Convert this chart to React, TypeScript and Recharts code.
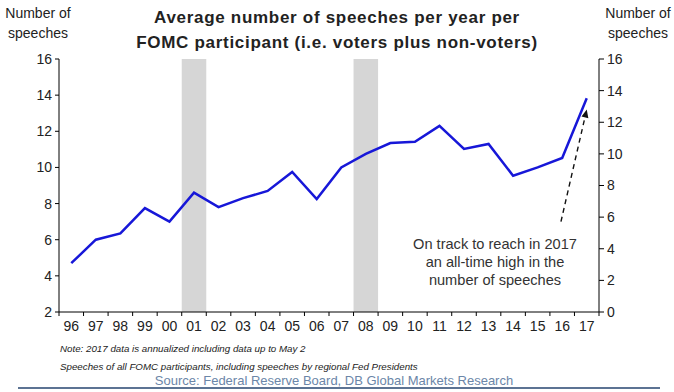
import React from "react";
import {
  LineChart,
  Line,
  XAxis,
  YAxis,
  ReferenceArea,
  ReferenceLine,
} from "recharts";

// years on the x axis (two-digit labels)
const years = [
  "96", "97", "98", "99", "00", "01", "02", "03", "04", "05", "06",
  "07", "08", "09", "10", "11", "12", "13", "14", "15", "16", "17",
];

// average speeches per FOMC participant (left axis)
const speeches = [
  4.7, 6.0, 6.35, 7.75, 7.0, 8.6, 7.8, 8.3, 8.7, 9.75, 8.25,
  10.0, 10.75, 11.35, 11.42, 12.3, 11.02, 11.3, 9.54, 10.0, 10.52, 13.83,
];

// shaded years (recessions)
const shadedYears = ["01", "08"];

const leftTicks = [2, 4, 6, 8, 10, 12, 14, 16];
const rightTicks = [0, 2, 4, 6, 8, 10, 12, 14, 16];

// dashed annotation arrow: from [x index, value] to [x index, value]
const arrowFrom = { x: 19.95, y: 7.0 };
const arrowTo = { x: 21.0, y: 13.2 };

const annotationLines = [
  "On track to reach in 2017",
  "an all-time high in the",
  "number of speeches",
];

const data = years.map((year, i) => ({ i, year, value: speeches[i] }));
const boundaries = years.map((_, i) => i - 0.5).concat([years.length - 0.5]);

const FONT = '"Liberation Sans", Arial, sans-serif';
const TEXT = "#222";

const YearTick = (props: any) => {
  const { x, y, payload, width } = props;
  const half = (width || 539) / (years.length * 2);
  const idx = payload.value + 0.5;
  const label = years[idx];
  return (
    <g>
      <line x1={x} y1={y} x2={x} y2={y + 4} stroke="#000" strokeWidth={1} />
      {label !== undefined && (
        <text
          x={x + half}
          y={y + 8}
          dy="0.8em"
          textAnchor="middle"
          fontSize={14}
          fontFamily={FONT}
          fill={TEXT}
        >
          {label}
        </text>
      )}
    </g>
  );
};

const ArrowShape = (props: any) => {
  const { x1, y1, x2, y2 } = props;
  if ([x1, y1, x2, y2].some((v) => v === undefined)) return null;
  const ang = Math.atan2(y2 - y1, x2 - x1);
  const len = 8;
  const w = 3.5;
  const bx = x2 - len * Math.cos(ang);
  const by = y2 - len * Math.sin(ang);
  const px = -Math.sin(ang) * w;
  const py = Math.cos(ang) * w;
  return (
    <g>
      <line
        x1={x1}
        y1={y1}
        x2={bx}
        y2={by}
        stroke="#111"
        strokeWidth={1.4}
        strokeDasharray="5 4"
      />
      <polygon
        points={`${x2},${y2} ${bx + px},${by + py} ${bx - px},${by - py}`}
        fill="#111"
      />
    </g>
  );
};

export default function App() {
  return (
    <div
      style={{
        position: "absolute",
        left: 0,
        top: 0,
        width: 674,
        height: 392,
        background: "#fff",
        fontFamily: FONT,
        color: TEXT,
      }}
    >
      <LineChart
        width={674}
        height={392}
        data={data}
        margin={{ top: 59, right: 35, bottom: 50, left: 19 }}
        style={{ position: "absolute", left: 0, top: 0 }}
      >
        {shadedYears.map((y) => {
          const idx = years.indexOf(y);
          return (
            <ReferenceArea
              key={y}
              yAxisId="left"
              x1={idx - 0.5}
              x2={idx + 0.5}
              y1={2}
              y2={16}
              fill="#d6d6d6"
              fillOpacity={1}
              stroke="none"
            />
          );
        })}
        <XAxis
          dataKey="i"
          type="number"
          domain={[-0.5, years.length - 0.5]}
          ticks={boundaries}
          interval={0}
          tickLine={false}
          tickSize={0}
          tickMargin={0}
          height={30}
          axisLine={{ stroke: "#000", strokeWidth: 1 }}
          tick={<YearTick />}
        />
        <YAxis
          yAxisId="left"
          orientation="left"
          width={40}
          domain={[2, 16]}
          ticks={leftTicks}
          interval={0}
          tickSize={4}
          tickMargin={3}
          axisLine={{ stroke: "#000" }}
          tickLine={{ stroke: "#000" }}
          tick={{ fontSize: 14, fontFamily: FONT, fill: TEXT }}
        />
        <YAxis
          yAxisId="right"
          orientation="right"
          width={40}
          domain={[0, 16]}
          allowDataOverflow
          ticks={rightTicks}
          interval={0}
          tickSize={5}
          tickMargin={3}
          axisLine={{ stroke: "#000" }}
          tickLine={{ stroke: "#000" }}
          tick={{ fontSize: 14, fontFamily: FONT, fill: TEXT }}
        />
        <Line
          yAxisId="left"
          type="linear"
          dataKey="value"
          stroke="#1717d8"
          strokeWidth={2.5}
          dot={false}
          isAnimationActive={false}
        />
        <ReferenceLine
          yAxisId="left"
          segment={[arrowFrom, arrowTo]}
          ifOverflow="visible"
          shape={<ArrowShape />}
        />
      </LineChart>

      {/* axis titles */}
      <div
        style={{
          position: "absolute",
          left: 0,
          top: 3,
          width: 76,
          textAlign: "center",
          fontSize: 14,
          lineHeight: "20px",
        }}
      >
        Number of
        <br />
        speeches
      </div>
      <div
        style={{
          position: "absolute",
          left: 600,
          top: 3,
          width: 76,
          textAlign: "center",
          fontSize: 14,
          lineHeight: "20px",
        }}
      >
        Number of
        <br />
        speeches
      </div>

      {/* title */}
      <div
        style={{
          position: "absolute",
          left: 37,
          top: 5,
          width: 600,
          textAlign: "center",
          fontSize: 17,
          fontWeight: "bold",
          letterSpacing: 0.7,
          lineHeight: "25px",
        }}
      >
        Average number of speeches per year per
        <br />
        FOMC participant (i.e. voters plus non-voters)
      </div>

      {/* annotation */}
      <div
        style={{
          position: "absolute",
          left: 395,
          top: 235,
          width: 200,
          textAlign: "center",
          fontSize: 14.6,
          lineHeight: "18px",
          color: "#333",
        }}
      >
        {annotationLines.map((l) => (
          <div key={l}>{l}</div>
        ))}
      </div>

      {/* notes */}
      <div
        style={{
          position: "absolute",
          left: 60,
          top: 343,
          fontSize: 9.75,
          fontStyle: "italic",
          whiteSpace: "nowrap",
        }}
      >
        Note: 2017 data is annualized including data up to May 2
      </div>
      <div
        style={{
          position: "absolute",
          left: 60,
          top: 361,
          fontSize: 9.75,
          fontStyle: "italic",
          whiteSpace: "nowrap",
        }}
      >
        Speeches of all FOMC participants, including speeches by regional Fed
        Presidents
      </div>
      <div
        style={{
          position: "absolute",
          left: 84,
          top: 373,
          width: 500,
          textAlign: "center",
          fontSize: 13,
          color: "#6b86a8",
          whiteSpace: "nowrap",
        }}
      >
        Source: Federal Reserve Board, DB Global Markets Research
      </div>
      <div
        style={{
          position: "absolute",
          left: 18,
          top: 387,
          width: 642,
          height: 2,
          background: "#5c7393",
        }}
      />
    </div>
  );
}
